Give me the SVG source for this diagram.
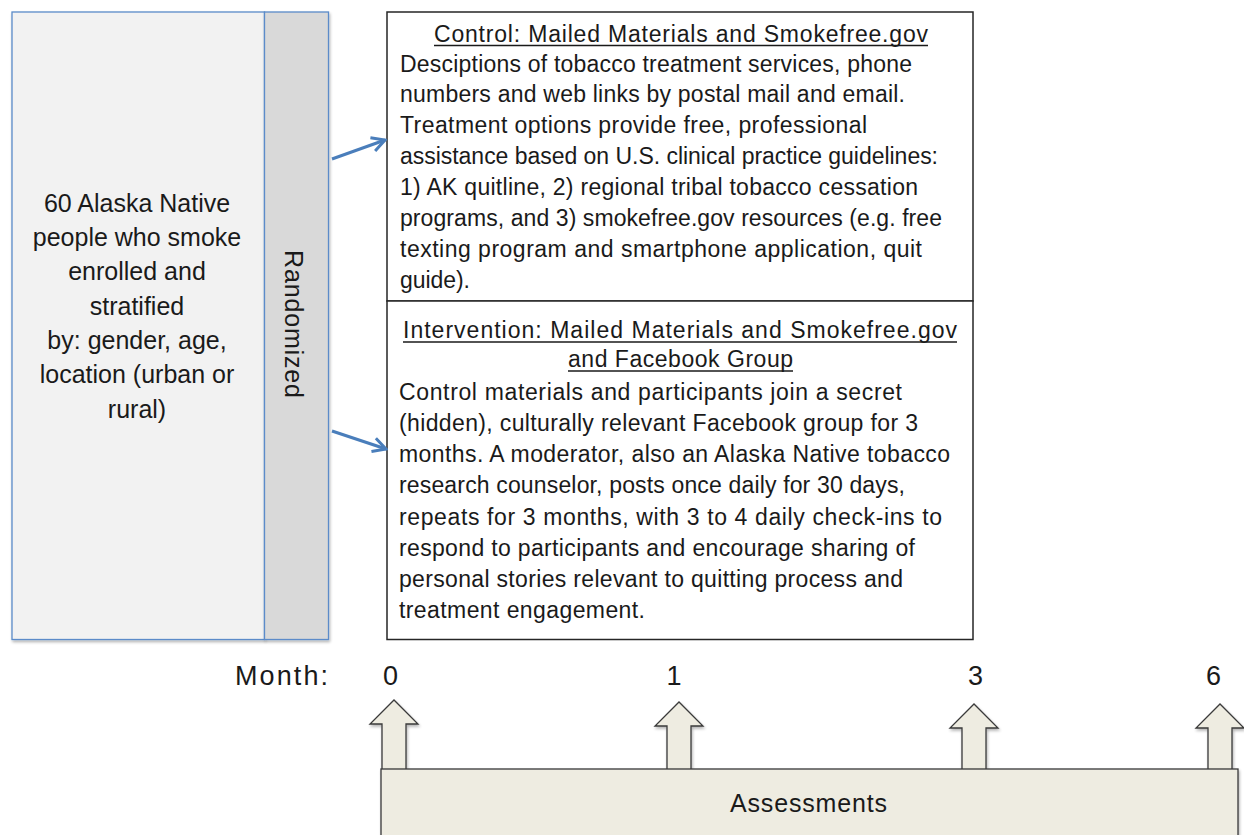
<svg xmlns="http://www.w3.org/2000/svg" width="1244" height="835" viewBox="0 0 1244 835">
  <style>
    text { font-family: "Liberation Sans", Arial, sans-serif; fill: #1a1a1a; }
    .left { font-size: 25px; text-anchor: middle; }
    .body { font-size: 23px; }
    .title { font-size: 23px; }
    .ul { stroke: #1a1a1a; stroke-width: 1.4; }
    .month { font-size: 27px; text-anchor: middle; }
    .blk { fill: #eeece1; stroke: #3a3a3a; stroke-width: 1.3; }
    .conn { stroke: #4a7ebb; stroke-width: 3; fill: none; }
  </style>
  <defs>
    <marker id="open" viewBox="0 0 18 18" refX="16" refY="9" markerWidth="18" markerHeight="18" markerUnits="userSpaceOnUse" orient="auto">
      <path d="M3,2 L16,9 L3,16" fill="none" stroke="#4a7ebb" stroke-width="3" stroke-linejoin="miter"/>
    </marker>
    <filter id="sh" x="-10%" y="-10%" width="130%" height="130%">
      <feGaussianBlur in="SourceAlpha" stdDeviation="1.5"/>
      <feOffset dx="1" dy="2" result="b"/>
      <feComponentTransfer><feFuncA type="linear" slope="0.3"/></feComponentTransfer>
      <feMerge><feMergeNode/><feMergeNode in="SourceGraphic"/></feMerge>
    </filter>
  </defs>
  <rect width="1244" height="835" fill="#ffffff"/>

  <g id="enrolled">
    <rect x="12" y="12" width="252.5" height="627.5" fill="#f2f2f2" stroke="#5b8bc9" stroke-width="1.3" filter="url(#sh)"/>
    <text class="left" x="137" y="212">60 Alaska Native</text>
    <text class="left" x="137" y="246">people who smoke</text>
    <text class="left" x="137" y="280">enrolled and</text>
    <text class="left" x="137" y="315">stratified</text>
    <text class="left" x="137" y="349">by: gender, age,</text>
    <text class="left" x="137" y="383">location (urban or</text>
    <text class="left" x="137" y="418">rural)</text>
  </g>

  <g id="randomized">
    <rect x="264.5" y="12" width="64" height="627.5" fill="#d9d9d9" stroke="#5b8bc9" stroke-width="1.3" filter="url(#sh)"/>
    <text class="left" font-size="26" transform="translate(285,324) rotate(90)" x="0" y="0" textLength="148">Randomized</text>
  </g>

  <g id="control">
    <rect x="387" y="12" width="586" height="289" fill="#ffffff" stroke="#262626" stroke-width="1.5"/>
    <text class="title" x="434" y="42" textLength="494">Control: Mailed Materials and Smokefree.gov</text>
    <line class="ul" x1="434" y1="45.5" x2="928" y2="45.5"/>
    <text class="body" x="400" y="72" textLength="512">Desciptions of tobacco treatment services, phone</text>
    <text class="body" x="400" y="102" textLength="505">numbers and web links by postal mail and email.</text>
    <text class="body" x="400" y="133" textLength="467">Treatment options provide free, professional</text>
    <text class="body" x="400" y="164" textLength="538">assistance based on U.S. clinical practice guidelines:</text>
    <text class="body" x="400" y="195" textLength="518">1) AK quitline, 2) regional tribal tobacco cessation</text>
    <text class="body" x="400" y="226" textLength="542">programs, and 3) smokefree.gov resources (e.g. free</text>
    <text class="body" x="400" y="257" textLength="522">texting program and smartphone application, quit</text>
    <text class="body" x="400" y="288" textLength="70">guide).</text>
  </g>

  <g id="intervention">
    <rect x="387" y="301" width="586" height="338.5" fill="#ffffff" stroke="#262626" stroke-width="1.5"/>
    <text class="title" x="403" y="338" textLength="554">Intervention: Mailed Materials and Smokefree.gov</text>
    <line class="ul" x1="403" y1="342" x2="957" y2="342"/>
    <text class="title" x="568" y="367" textLength="225">and Facebook Group</text>
    <line class="ul" x1="568" y1="371" x2="793" y2="371"/>
    <text class="body" x="399" y="400" textLength="503">Control materials and participants join a secret</text>
    <text class="body" x="399" y="431" textLength="519">(hidden), culturally relevant Facebook group for 3</text>
    <text class="body" x="399" y="462" textLength="551">months. A moderator, also an Alaska Native tobacco</text>
    <text class="body" x="399" y="493" textLength="506">research counselor, posts once daily for 30 days,</text>
    <text class="body" x="399" y="525" textLength="543">repeats for 3 months, with 3 to 4 daily check-ins to</text>
    <text class="body" x="399" y="556" textLength="516">respond to participants and encourage sharing of</text>
    <text class="body" x="399" y="587" textLength="504">personal stories relevant to quitting process and</text>
    <text class="body" x="399" y="618" textLength="246">treatment engagement.</text>
  </g>

  <g id="connectors">
    <line class="conn" x1="332" y1="159" x2="385" y2="140" marker-end="url(#open)"/>
    <line class="conn" x1="332" y1="431" x2="386" y2="449" marker-end="url(#open)"/>
  </g>

  <g id="months">
    <text class="month" x="281.5" y="685" textLength="93">Month:</text>
    <text class="month" x="390.5" y="685">0</text>
    <text class="month" x="674" y="685">1</text>
    <text class="month" x="975.5" y="685">3</text>
    <text class="month" x="1213.5" y="685">6</text>
  </g>

  <g id="assessment-arrows" filter="url(#sh)">
    <path class="blk" d="M382,772 L382,724 L370,724 L394,700 L418,724 L406,724 L406,772 Z"/>
    <path class="blk" d="M667,772 L667,726 L655,726 L679,702 L703,726 L691,726 L691,772 Z"/>
    <path class="blk" d="M962,772 L962,728 L950,728 L974,704 L998,728 L986,728 L986,772 Z"/>
    <path class="blk" d="M1208,772 L1208,728 L1196,728 L1220,704 L1244,728 L1232,728 L1232,772 Z"/>
  </g>

  <g id="assessments">
    <rect class="blk" x="381" y="769" width="857" height="80" filter="url(#sh)"/>
    <text x="808.5" y="812" font-size="25" text-anchor="middle" textLength="157">Assessments</text>
  </g>
</svg>
